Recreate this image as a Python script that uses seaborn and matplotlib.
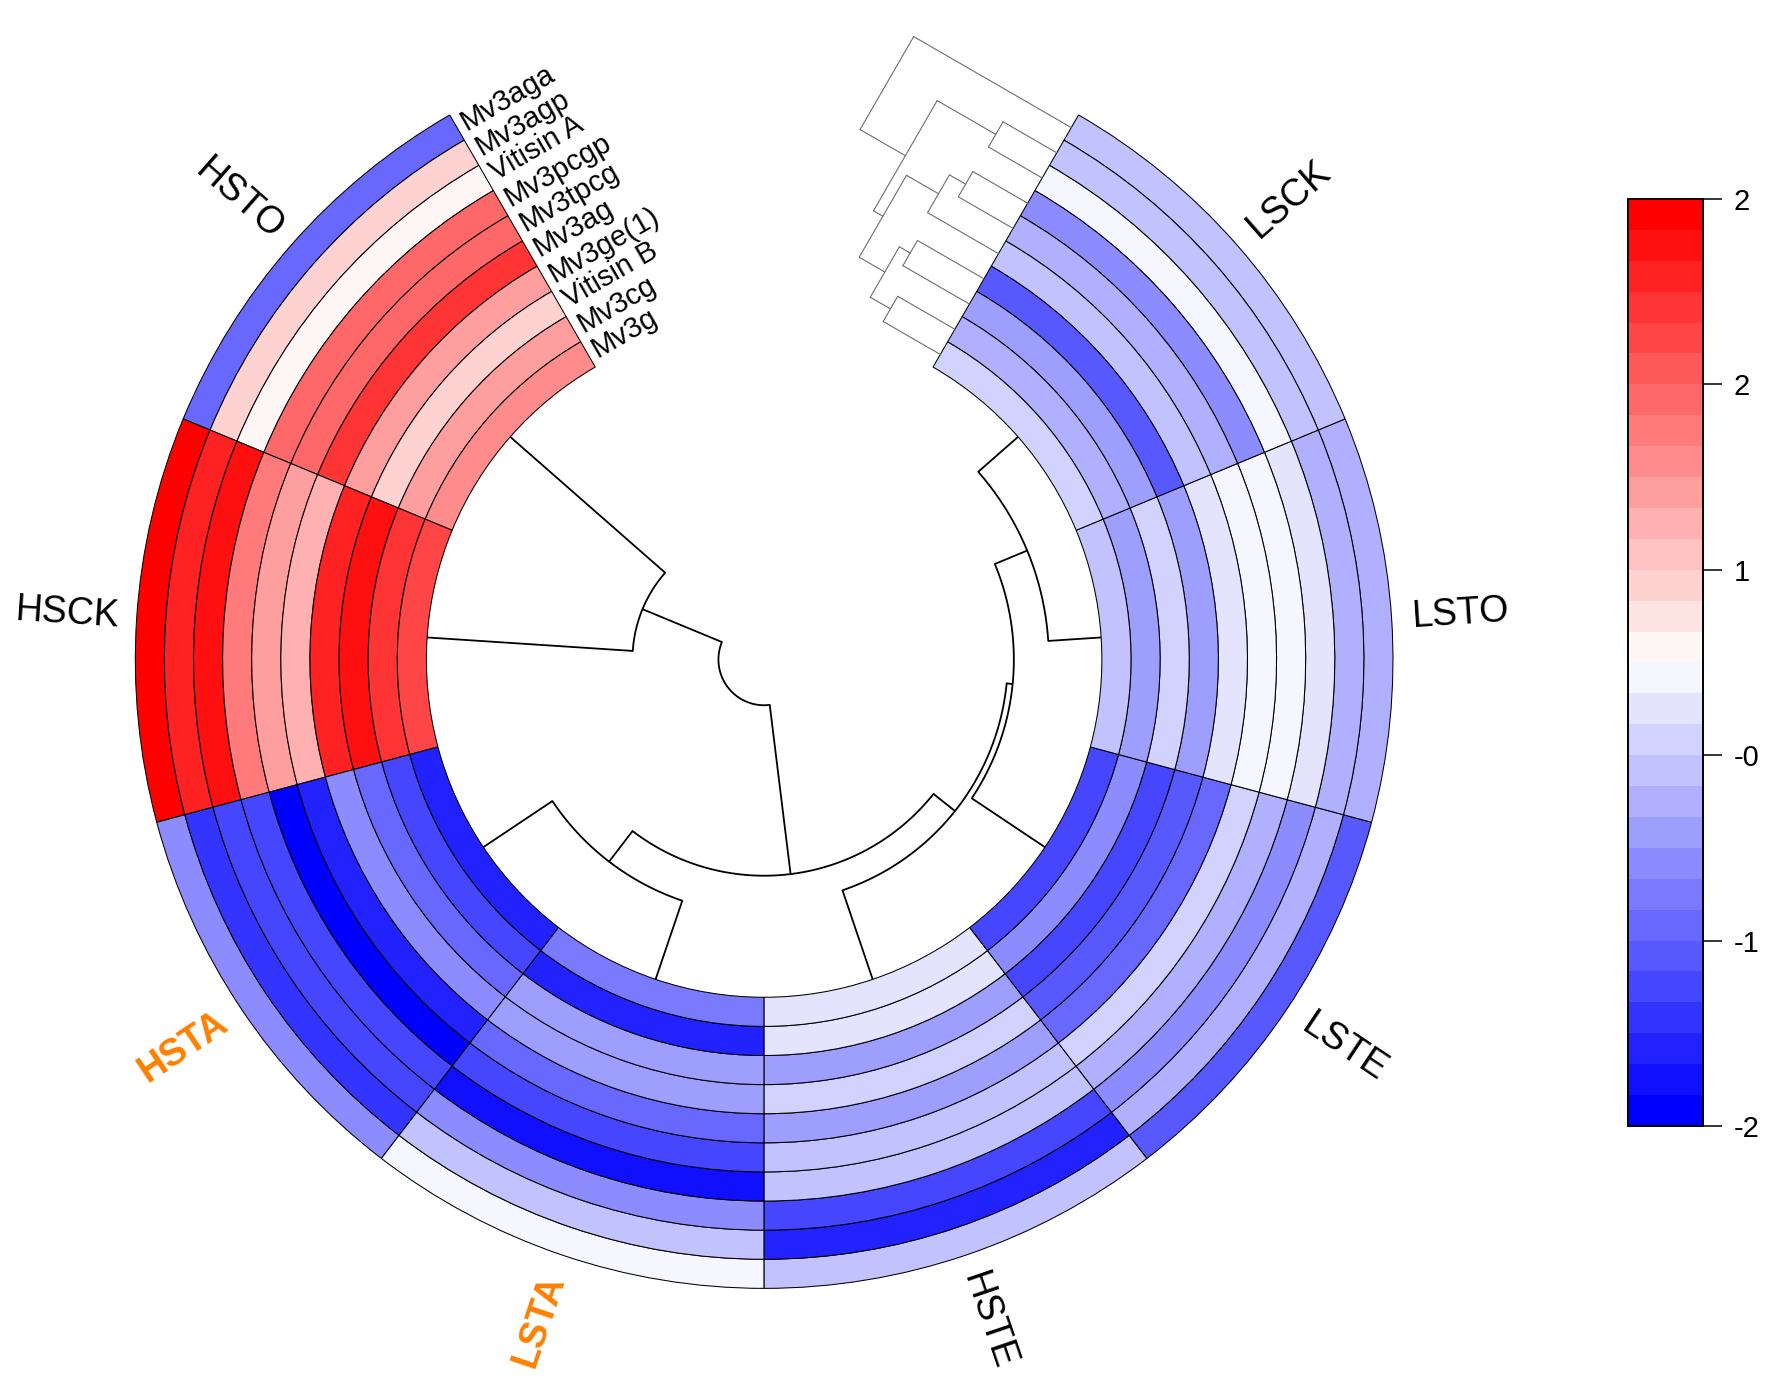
import numpy as np
import pandas as pd
import matplotlib
matplotlib.use('Agg')
import matplotlib.pyplot as plt
import seaborn as sns
from matplotlib.colors import ListedColormap, Normalize
from matplotlib.cm import ScalarMappable

sns.set_style('white')
plt.rcParams['font.family'] = ['Liberation Sans', 'DejaVu Sans']
plt.rcParams['text.color'] = 'black'
plt.rcParams['ytick.color'] = 'black'
plt.rcParams['ytick.labelcolor'] = 'black'

# samples go counter-clockwise from the top gap, compounds from outer ring to inner ring
samples = ['HSTO', 'HSCK', 'HSTA', 'LSTA', 'HSTE', 'LSTE', 'LSTO', 'LSCK']
compounds = ['Mv3aga', 'Mv3agp', 'Vitisin A', 'Mv3pcgp', 'Mv3tpcg',
             'Mv3ag', 'Mv3ge(1)', 'Vitisin B', 'Mv3cg', 'Mv3g']

HSTO = [-0.97, 0.61, 0.32, 1.47, 1.50, 1.90, 1.04, 0.61, 1.04, 1.18]
HSCK = [2.33, 2.04, 2.19, 1.33, 1.04, 0.90, 2.04, 2.19, 1.90, 1.76]
HSTA = [-0.68, -1.40, -1.25, -1.27, -1.83, -1.54, -0.68, -0.97, -1.25, -1.54]
LSTA = [0.18, -0.25, -0.68, -1.69, -1.25, -0.97, -0.54, -0.56, -1.54, -0.82]
HSTE = [-0.25, -1.54, -1.25, -0.25, -0.27, -0.54, -0.11, -0.54, 0.04, 0.02]
LSTE = [-1.11, -0.39, -0.68, -0.39, -0.11, -0.97, -1.11, -1.25, -0.68, -1.25]
LSTO = [-0.39, -0.39, 0.04, 0.18, 0.18, 0.04, -0.54, -0.11, -0.54, -0.25]
LSCK = [-0.25, -0.25, 0.18, -0.68, -0.39, -0.25, -1.11, -0.54, -0.39, -0.11]

df = pd.DataFrame({'HSTO': HSTO, 'HSCK': HSCK, 'HSTA': HSTA, 'LSTA': LSTA,
                   'HSTE': HSTE, 'LSTE': LSTE, 'LSTO': LSTO, 'LSCK': LSCK},
                  index=compounds)

# dendrograms: (node, left, right, height)
col_merges = [('c1', 'LSTO', 'LSCK', 0.466),
              ('c2', 'LSTE', 'c1', 0.774),
              ('c3', 'HSTE', 'c2', 0.827),
              ('c4', 'HSTA', 'LSTA', 0.730),
              ('c5', 'c4', 'c3', 1.069),
              ('c6', 'HSTO', 'HSCK', 1.812),
              ('c7', 'c6', 'c5', 2.568)]
row_merges = [('n1', 'Mv3agp', 'Vitisin A', 0.545),
              ('n2', 'Mv3pcgp', 'Mv3tpcg', 0.556),
              ('n3', 'n2', 'Mv3ag', 0.720),
              ('n4', 'Mv3ge(1)', 'Vitisin B', 0.675),
              ('n5', 'Mv3cg', 'Mv3g', 0.580),
              ('n6', 'n4', 'n5', 0.785),
              ('n7', 'n3', 'n6', 1.045),
              ('n8', 'n1', 'n7', 1.140),
              ('n9', 'Mv3aga', 'n8', 1.600)]
orange_labels = ['HSTA', 'LSTA']

VMIN, VMAX = -1.9, 2.4
cmap = ListedColormap(sns.blend_palette(['#0000FF', '#FFFFFF', '#FF0000'], 30))
norm = Normalize(vmin=VMIN, vmax=VMAX)

# layout (pixel-like units of the circle)
R_OUT, R_IN = 553, 297
RW = (R_OUT - R_IN) / len(compounds)
START, SEC = 30.0, 37.5
RMAX = 700
CX, CY, WV, HV = 672, 580, 1568, 1225
DSCALE = 100

fig = plt.figure(figsize=(17.83, 13.93), dpi=100)
rect = [(CX - RMAX) / WV, (HV - CY - RMAX) / HV, 2 * RMAX / WV, 2 * RMAX / HV]

ax = fig.add_axes(rect, projection='polar')
ax.set_theta_zero_location('N')
ax.set_theta_direction(1)
ax.set_ylim(0, RMAX)
ax.axis('off')

for j, s in enumerate(samples):
    th = np.radians(START + SEC * (j + 0.5))
    for i, c in enumerate(compounds):
        ax.bar(th, RW, width=np.radians(SEC), bottom=R_OUT - (i + 1) * RW,
               color=cmap(norm(df.loc[c, s])), edgecolor='black', linewidth=0.75)

ax2 = fig.add_axes(rect)
ax2.set_xlim(-RMAX, RMAX)
ax2.set_ylim(-RMAX, RMAX)
ax2.axis('off')


def xy(t, r):
    t = np.radians(t)
    return -np.asarray(r) * np.sin(t), np.asarray(r) * np.cos(t)


# column dendrogram inside the ring
pos = {s: (START + SEC * (j + 0.5), R_IN) for j, s in enumerate(samples)}
for name, a, b, h in col_merges:
    r = R_IN - h * DSCALE
    ta, ra = pos[a]
    tb, rb = pos[b]
    for t, r0 in [(ta, ra), (tb, rb)]:
        x, y = xy(np.array([t, t]), np.array([r0, r]))
        ax2.plot(x, y, color='black', lw=1.3, solid_capstyle='butt')
    x, y = xy(np.linspace(ta, tb, 200), r)
    ax2.plot(x, y, color='black', lw=1.3)
    pos[name] = ((ta + tb) / 2, r)

# row dendrogram in the gap, next to LSCK
e = np.array(xy(360 - START, 1.0))
u = np.array([-np.cos(np.radians(360 - START)), -np.sin(np.radians(360 - START))])
rpos = {c: (R_OUT - (i + 0.5) * RW, 0.0) for i, c in enumerate(compounds)}
for name, a, b, h in row_merges:
    H = h * DSCALE
    sa, ha = rpos[a]
    sb, hb = rpos[b]
    segs = [((sa, ha), (sa, H)), ((sb, hb), (sb, H)), ((sa, H), (sb, H))]
    for (s0, h0), (s1, h1) in segs:
        p0 = s0 * e + h0 * u
        p1 = s1 * e + h1 * u
        ax2.plot([p0[0], p1[0]], [p0[1], p1[1]], color='#6e6e6e', lw=0.8)
    rpos[name] = ((sa + sb) / 2, H)

# compound labels at the HSTO edge
cw = np.array([np.cos(np.radians(START)), np.sin(np.radians(START))])
for i, c in enumerate(compounds):
    p = np.array(xy(START, R_OUT - (i + 0.5) * RW)) + 6 * cw
    ax2.text(p[0], p[1], c, rotation=START, rotation_mode='anchor',
             ha='left', va='center', fontsize=21, color='black')

# sample labels
for j, s in enumerate(samples):
    t = START + SEC * (j + 0.5)
    x, y = xy(t, 614)
    rot = ((90 + t + 90) % 180) - 90
    if s in orange_labels:
        ax2.text(x, y, s, rotation=rot, rotation_mode='anchor', ha='center',
                 va='center', fontsize=27, color='#FF8000', fontweight='bold')
    else:
        ax2.text(x, y, s, rotation=rot, rotation_mode='anchor', ha='center',
                 va='center', fontsize=27, color='black')

cax = fig.add_axes([0.913, 0.1917, 0.042, 0.6655])
cb = fig.colorbar(ScalarMappable(norm=norm, cmap=cmap), cax=cax,
                  ticks=np.linspace(VMIN, VMAX, 6), format='%.0f')
cb.outline.set_linewidth(1.4)
cb.outline.set_edgecolor('black')
cax.tick_params(length=14, width=1.1, labelsize=21, pad=8,
                color='black', labelcolor='black')

fig.savefig('out.png', dpi=100)
